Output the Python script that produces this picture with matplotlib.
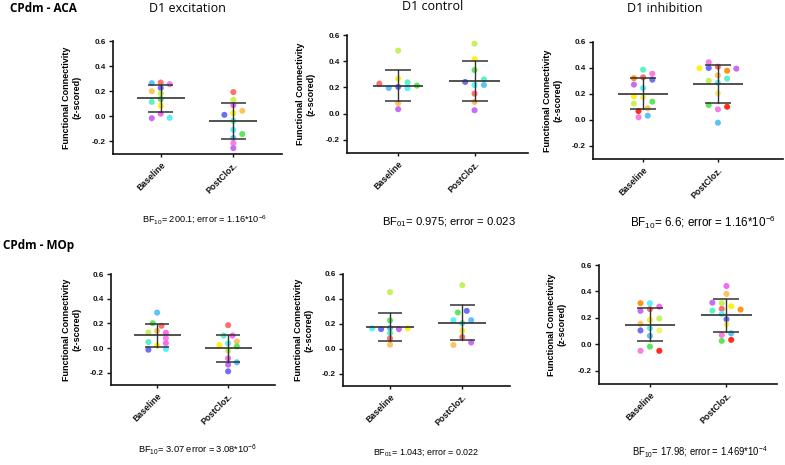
import matplotlib
matplotlib.use('Agg')
import matplotlib.pyplot as plt
import numpy as np

plt.rcParams['font.family'] = ['Liberation Sans', 'DejaVu Sans']
plt.rcParams['mathtext.fontset'] = 'custom'
plt.rcParams['mathtext.rm'] = 'Liberation Sans'
plt.rcParams['mathtext.it'] = 'Liberation Sans:italic'
plt.rcParams['mathtext.bf'] = 'Liberation Sans:bold'

# ---------------- data ----------------
categories = ['Baseline', 'PostCloz.']
yticks = [-0.2, 0.0, 0.2, 0.4, 0.6]
ytick_labels = ['-0.2', '0.0', '0.2', '0.4', '0.6']
row_titles = ['CPdm - ACA', 'CPdm - MOp']
col_titles = ['D1 excitation', 'D1 control', 'D1 inhibition']
ylabel = 'Functional Connectivity\n(z-scored)'
bf_texts = [
    r'BF$_{10}$= 200.1; error = 1.16*10$^{-6}$',
    r'BF$_{01}$= 0.975; error = 0.023',
    r'BF$_{10}$= 6.6; error = 1.16*10$^{-6}$',
    r'BF$_{10}$= 3.07 error = 3.08*10$^{-6}$',
    r'BF$_{01}$= 1.043; error = 0.022',
    r'BF$_{10}$= 17.98; error = 1.469*10$^{-4}$',
]

# CPdm - ACA, D1 excitation
aca_exc_base = [0.269, 0.264, 0.256, 0.226, 0.200, 0.183, 0.137, 0.115, 0.084, 0.021, -0.015, -0.012]
aca_exc_post = [0.193, 0.131, 0.089, 0.044, 0.026, 0.012, -0.035, -0.107, -0.141, -0.173, -0.213, -0.253]
# CPdm - ACA, D1 control
aca_ctl_base = [0.481, 0.267, 0.239, 0.229, 0.214, 0.204, 0.196, 0.194, 0.080, 0.034]
aca_ctl_post = [0.534, 0.415, 0.333, 0.262, 0.242, 0.219, 0.219, 0.153, 0.089, 0.026]
# CPdm - ACA, D1 inhibition
aca_inh_base = [0.387, 0.356, 0.328, 0.321, 0.310, 0.272, 0.246, 0.182, 0.175, 0.141, 0.126, 0.090, 0.069, 0.033, 0.021]
aca_inh_post = [0.444, 0.410, 0.400, 0.398, 0.395, 0.379, 0.344, 0.318, 0.302, 0.287, 0.205, 0.115, 0.102, 0.082, -0.021]
# CPdm - MOp, D1 excitation
mop_exc_base = [0.287, 0.201, 0.180, 0.139, 0.126, 0.123, 0.080, 0.048, 0.040, 0.021, -0.009, -0.014]
mop_exc_post = [0.185, 0.101, 0.101, 0.053, 0.037, 0.024, 0.013, -0.022, -0.084, -0.116, -0.135, -0.189]
# CPdm - MOp, D1 control
mop_ctl_base = [0.454, 0.227, 0.165, 0.163, 0.163, 0.157, 0.157, 0.125, 0.083, 0.032]
mop_ctl_post = [0.510, 0.304, 0.291, 0.229, 0.229, 0.205, 0.144, 0.093, 0.050, 0.030]
# CPdm - MOp, D1 inhibition
mop_inh_base = [0.311, 0.311, 0.285, 0.266, 0.253, 0.195, 0.185, 0.155, 0.122, 0.105, 0.105, 0.064, -0.017, -0.049, -0.049]
mop_inh_post = [0.441, 0.381, 0.315, 0.311, 0.288, 0.268, 0.263, 0.255, 0.230, 0.190, 0.152, 0.083, 0.071, 0.034, 0.026]

# ---------------- styles (point colours per animal) ----------------
PAL = {
    'red': '#ff2b1c', 'salmon': '#ff6f6f', 'orange': '#ff9317', 'lightorange': '#ffc35e',
    'yellow': '#fff01a', 'paleyellow': '#f4f06a', 'lime': '#c5f25a', 'green': '#5fe65f',
    'aqua': '#5cf2c8', 'cyan': '#5df0f7', 'lightblue': '#5cc3f8', 'blue': '#6d6ff7',
    'violet': '#c66cf7', 'magenta': '#f56cf3', 'pink': '#f87ee0',
}
aca_exc_base_c = ['salmon', 'lightblue', 'pink', 'blue', 'lightorange', 'lime', 'green', 'aqua', 'yellow', 'magenta', 'violet', 'cyan']
aca_exc_post_c = ['salmon', 'lime', 'magenta', 'lightorange', 'yellow', 'blue', 'aqua', 'cyan', 'green', 'lightblue', 'pink', 'violet']
aca_ctl_base_c = ['lime', 'yellow', 'aqua', 'salmon', 'green', 'blue', 'lightblue', 'cyan', 'lightorange', 'violet']
aca_ctl_post_c = ['lime', 'yellow', 'green', 'aqua', 'blue', 'cyan', 'lightblue', 'salmon', 'lightorange', 'violet']
aca_inh_base_c = ['aqua', 'pink', 'salmon', 'orange', 'blue', 'violet', 'cyan', 'yellow', 'paleyellow', 'green', 'lime', 'lightorange', 'red', 'lightblue', 'pink']
aca_inh_post_c = ['pink', 'salmon', 'blue', 'yellow', 'violet', 'orange', 'lightorange', 'aqua', 'lime', 'cyan', 'paleyellow', 'green', 'red', 'pink', 'lightblue']
mop_exc_base_c = ['lightblue', 'green', 'salmon', 'lightorange', 'lime', 'magenta', 'pink', 'aqua', 'magenta', 'yellow', 'cyan', 'blue']
mop_exc_post_c = ['salmon', 'aqua', 'magenta', 'lightorange', 'cyan', 'yellow', 'green', 'lime', 'magenta', 'lightblue', 'violet', 'blue']
mop_ctl_base_c = ['lime', 'green', 'lightblue', 'cyan', 'yellow', 'blue', 'violet', 'aqua', 'salmon', 'lightorange']
mop_ctl_post_c = ['lime', 'blue', 'green', 'cyan', 'lightblue', 'aqua', 'yellow', 'salmon', 'violet', 'lightorange']
mop_inh_base_c = ['orange', 'cyan', 'magenta', 'salmon', 'violet', 'lime', 'yellow', 'lightorange', 'cyan', 'blue', 'paleyellow', 'lightblue', 'green', 'pink', 'red']
mop_inh_post_c = ['magenta', 'lightorange', 'violet', 'lime', 'yellow', 'salmon', 'orange', 'aqua', 'cyan', 'blue', 'paleyellow', 'lightblue', 'pink', 'red', 'green']

# horizontal spread slot of each dot (scatter-dot-plot layout, -1 left, 0 centre, +1 right)
aca_exc_base_s = [0, -1, 1, 0, -1, 0, 0, -1, 0, 0, -1, 1]
aca_exc_post_s = [0, 0, 0, 1, 0, -1, 0, 0, 1, 0, 0, 0]
aca_ctl_base_s = [0, 0, 1, -2, 2, 0, -1, 1, 0, 0]
aca_ctl_post_s = [0, 0, 0, 1, -1, 0, 1, 0, 0, 0]
aca_inh_base_s = [0, 1, 0, -1, 1, -1, 0, -1, 0, 1, -1, 0.5, -0.5, 0.5, -0.5]
aca_inh_post_s = [-1, 0, -1, -2, 2, 1, 0, 1, -1, 0, 0, -1, 1, 0, 0]
mop_exc_base_s = [0, -0.5, 0.5, 0, -1, 1, 1, -1, 1, 0, 1, -1]
mop_exc_post_s = [0, -0.5, 0.5, 1, 0, -1, 1, 0, 0, 1, 0, 0]
mop_ctl_base_s = [0, 0, 0, -2, 2, -1, 1, 0, 0, 0]
mop_ctl_post_s = [0, 0.5, -0.5, -1, 1, 0, 0, 0, 1, -1]
mop_inh_base_s = [-1, 0, 1, 0, -1, 1, 0, -1, 0, -1, 1, 0, 0, -1, 1]
mop_inh_post_s = [0, 0, -1.5, -0.5, 0.5, -0.5, 1.5, -1.5, -0.5, 0, 0, 0.5, -0.5, 0.5, -0.5]

panels = [
    (aca_exc_base, aca_exc_post, aca_exc_base_c, aca_exc_post_c, aca_exc_base_s, aca_exc_post_s),
    (aca_ctl_base, aca_ctl_post, aca_ctl_base_c, aca_ctl_post_c, aca_ctl_base_s, aca_ctl_post_s),
    (aca_inh_base, aca_inh_post, aca_inh_base_c, aca_inh_post_c, aca_inh_base_s, aca_inh_post_s),
    (mop_exc_base, mop_exc_post, mop_exc_base_c, mop_exc_post_c, mop_exc_base_s, mop_exc_post_s),
    (mop_ctl_base, mop_ctl_post, mop_ctl_base_c, mop_ctl_post_c, mop_ctl_base_s, mop_ctl_post_s),
    (mop_inh_base, mop_inh_post, mop_inh_base_c, mop_inh_post_c, mop_inh_base_s, mop_inh_post_s),
]

# ---------------- layout ----------------
W, H = 785, 465
fig = plt.figure(figsize=(W / 100, H / 100), dpi=100)
fig.patch.set_facecolor('white')

def px_axes(l, t, r, b):
    return [l / W, 1 - b / H, (r - l) / W, (b - t) / H]

boxes = [(113, 41, 282, 154), (347, 35, 528, 153), (593, 42, 783, 159),
         (111, 274, 275, 385), (343, 274, 510, 386), (599, 265, 777, 384)]
xlims = [(-0.657, 1.67), (-0.67, 1.70), (-0.67, 1.87),
         (-0.65, 1.66), (-0.65, 1.66), (-0.665, 1.66)]
ylab_x = [72, 306, 553, 72, 304, 557]
bf_pos = [(205, 220), (449, 222), (703, 222), (198, 450), (426, 452), (700, 452)]
bf_size = [6.6, 8.1, 8.4, 6.7, 6.4, 6.85]

slot_w = 0.123
mean_hw = 0.33
sd_hw = 0.17
line_c = '#333333'

for i, (box, xl, pdata) in enumerate(zip(boxes, xlims, panels)):
    ax = fig.add_axes(px_axes(*box))
    base, post, bc, pc, bs, ps = pdata
    for k, (vals, cols, slots) in enumerate([(base, bc, bs), (post, pc, ps)]):
        v = np.asarray(vals)
        x = k + np.asarray(slots) * slot_w
        ax.scatter(x, v, s=19, c=[PAL[c] for c in cols], linewidths=0, zorder=2)
        m = v.mean()
        sd = v.std(ddof=1)
        ax.plot([k - mean_hw, k + mean_hw], [m, m], color=line_c, lw=1.2, zorder=3,
                solid_capstyle='butt')
        ax.plot([k - sd_hw, k + sd_hw], [m + sd, m + sd], color=line_c, lw=1.1, zorder=3,
                solid_capstyle='butt')
        ax.plot([k - sd_hw, k + sd_hw], [m - sd, m - sd], color=line_c, lw=1.1, zorder=3,
                solid_capstyle='butt')
        ax.plot([k, k], [m - sd, m + sd], color=line_c, lw=1.0, zorder=3)
    ax.set_xlim(*xl)
    ax.set_ylim(-0.3, 0.6)
    ax.set_yticks(yticks)
    ax.set_yticklabels(ytick_labels, fontsize=5.8, fontweight='bold')
    ax.set_xticks([0, 1])
    ax.set_xticklabels(categories, fontsize=6.3, fontweight='bold', rotation=45,
                       ha='right', va='top', rotation_mode='anchor')
    for s in ['top', 'right']:
        ax.spines[s].set_visible(False)
    for s in ['left', 'bottom']:
        ax.spines[s].set_linewidth(1.2)
        ax.spines[s].set_color('#111111')
    ax.tick_params(axis='y', length=3, width=1.0, pad=2, colors='#111111')
    ax.tick_params(axis='x', length=2.5, width=1.0, pad=2, colors='#111111')
    ax.set_facecolor('none')
    # y label
    l, t, r, b = box
    fig.text(ylab_x[i] / W, 1 - ((t + b) / 2) / H, ylabel, rotation=90, ha='center',
             va='center', ma='center', fontsize=6.5, fontweight='bold', linespacing=1.25)
    bx, by = bf_pos[i]
    fig.text(bx / W, 1 - by / H, bf_texts[i], ha='center', va='center', fontsize=bf_size[i])

# titles
fig.text(10 / W, 1 - 8 / H, row_titles[0], ha='left', va='center', fontsize=8.5,
         fontweight='bold', family='Open Sans')
fig.text(3 / W, 1 - 245 / H, row_titles[1], ha='left', va='center', fontsize=8.5,
         fontweight='bold', family='Open Sans')
for cx, cy, ttl in zip([187, 433, 665], [8, 7, 8], col_titles):
    fig.text(cx / W, 1 - cy / H, ttl, ha='center', va='center', fontsize=9, family='Open Sans')

fig.savefig('out.png', dpi=100, facecolor='white')
